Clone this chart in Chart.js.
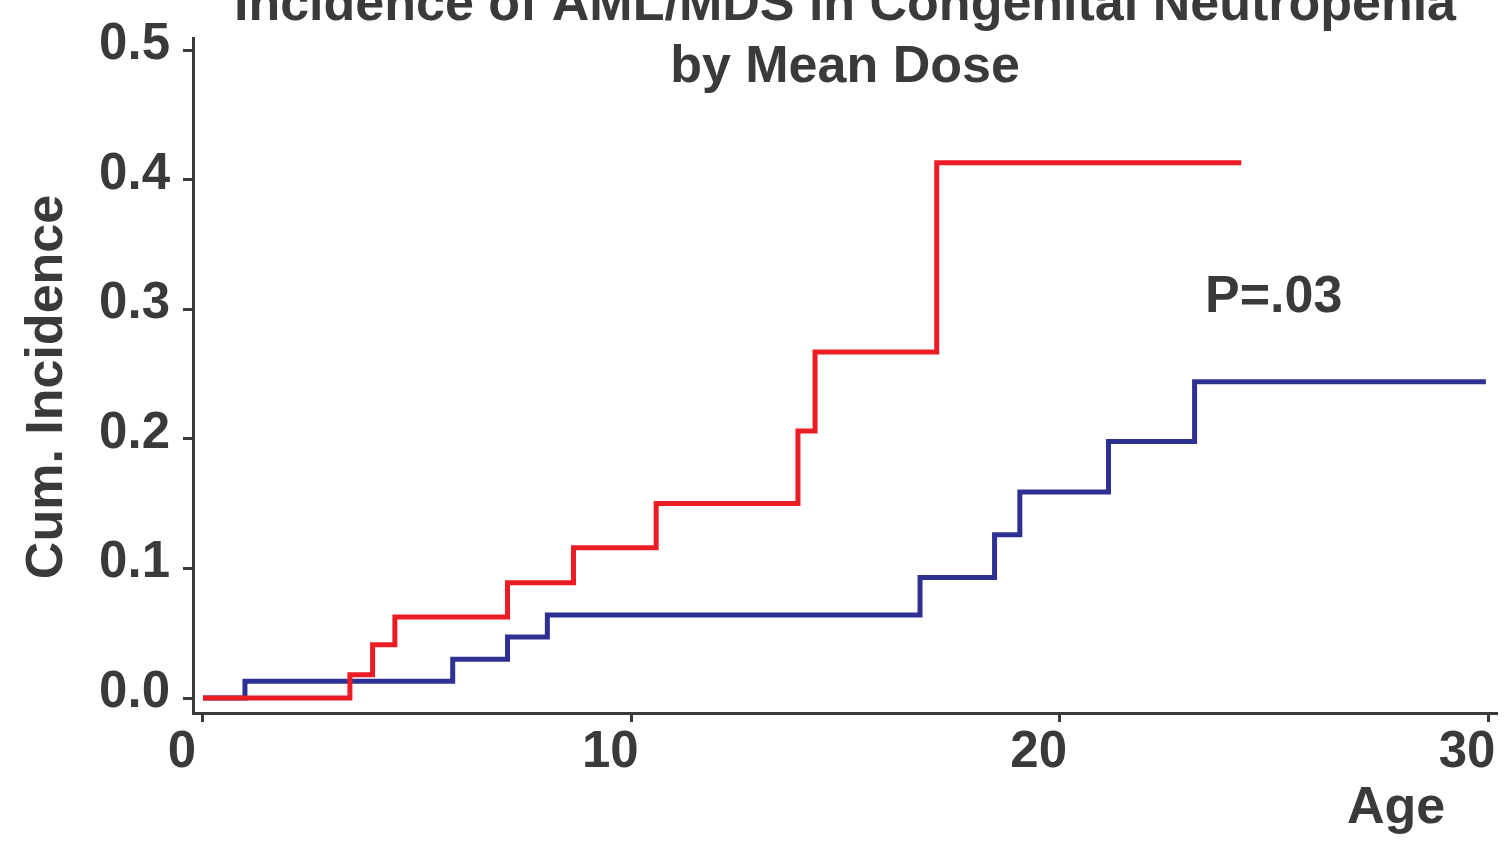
<!DOCTYPE html>
<html>
<head>
<meta charset="utf-8">
<script src="https://cdn.jsdelivr.net/npm/chart.js@4"></script>
<style>
  html, body { margin: 0; padding: 0; background: #fff; }
  #wrap { width: 1506px; height: 842px; }
</style>
</head>
<body>
<div id="wrap"><canvas id="aml"></canvas></div>
<script>
// step curves (age, cumulative incidence)
const highDoseAge = [0, 3.43, 3.96, 4.48, 7.11, 8.65, 10.58, 13.89, 14.29, 17.13, 24.24];
const highDoseInc = [0, 0.018, 0.041, 0.0625, 0.089, 0.116, 0.150, 0.206, 0.267, 0.413, 0.413];

const lowDoseAge = [0, 0.98, 5.83, 7.11, 8.04, 16.74, 18.48, 19.07, 21.14, 23.15, 29.95];
const lowDoseInc = [0, 0.013, 0.030, 0.047, 0.064, 0.093, 0.126, 0.159, 0.198, 0.244, 0.244];

const xTicks = [0, 10, 20, 30];
const yTicks = [0, 0.1, 0.2, 0.3, 0.4, 0.5];

const titleLines = ["Incidence of AML/MDS in Congenital Neutropenia", "by Mean Dose"];
const yTitle = "Cum. Incidence";
const xTitle = "Age";
const pValue = "P=.03";

const INK = "#3a3a3c";
const FONT = "'Liberation Sans', Arial, Helvetica, sans-serif";

function toPoints(xs, ys) {
  return xs.map((x, i) => ({ x: x, y: ys[i] }));
}

// texts drawn on top of the plot (title overlaps the plot box in the original)
const labelsPlugin = {
  id: "labels",
  afterDraw(chart) {
    const ctx = chart.ctx;
    const area = chart.chartArea;
    const cx = (area.left + area.right) / 2;
    ctx.save();
    ctx.fillStyle = INK;
    ctx.font = "bold 52px " + FONT;
    ctx.textAlign = "center";
    ctx.textBaseline = "alphabetic";
    ctx.fillText(titleLines[0], cx, 20);
    ctx.fillText(titleLines[1], cx, 82);

    ctx.fillText(xTitle, 1396, 823);

    ctx.textAlign = "left";
    ctx.fillText(pValue, 1205, 312);

    ctx.translate(62, 387);
    ctx.rotate(-Math.PI / 2);
    ctx.textAlign = "center";
    ctx.fillText(yTitle, 0, 0);
    ctx.restore();
  },
};

const ctx = document.getElementById("aml");

new Chart(ctx, {
  type: "line",
  data: {
    datasets: [
      {
        label: "High dose",
        data: toPoints(highDoseAge, highDoseInc),
        borderColor: "#ec1c24",
        borderWidth: 5,
        stepped: "before",
        pointRadius: 0,
        fill: false,
        borderJoinStyle: "miter",
      },
      {
        label: "Low dose",
        data: toPoints(lowDoseAge, lowDoseInc),
        borderColor: "#2e3192",
        borderWidth: 5,
        stepped: "before",
        pointRadius: 0,
        fill: false,
        borderJoinStyle: "miter",
      },
    ],
  },
  options: {
    responsive: true,
    maintainAspectRatio: false,
    animation: false,
    layout: {
      padding: { top: 38, right: 9, left: 0, bottom: 0 },
    },
    plugins: {
      legend: { display: false },
      title: { display: false },
      tooltip: { enabled: false },
    },
    scales: {
      x: {
        type: "linear",
        min: -0.233,
        max: 30.21,
        afterBuildTicks: (scale) => {
          scale.ticks = xTicks.map((v) => ({ value: v }));
        },
        afterFit: (scale) => {
          scale.height = 129;
          scale.paddingLeft = 0;
          scale.paddingRight = 0;
        },
        border: { display: true, color: INK, width: 3 },
        grid: {
          drawOnChartArea: false,
          drawTicks: true,
          tickLength: 9,
          tickColor: INK,
          tickWidth: 3,
        },
        ticks: {
          color: INK,
          font: { family: FONT, size: 51, weight: "bold" },
          padding: 0,
          labelOffset: -21,
          maxRotation: 0,
          autoSkip: false,
        },
      },
      y: {
        min: -0.01157,
        max: 0.5093,
        afterBuildTicks: (scale) => {
          scale.ticks = yTicks.map((v) => ({ value: v }));
        },
        afterFit: (scale) => {
          scale.width = 193;
          scale.paddingTop = 0;
          scale.paddingBottom = 0;
        },
        border: { display: true, color: INK, width: 3 },
        grid: {
          drawOnChartArea: false,
          drawTicks: true,
          tickLength: 10,
          tickColor: INK,
          tickWidth: 3,
        },
        ticks: {
          color: INK,
          font: { family: FONT, size: 51, weight: "bold" },
          padding: 13,
          labelOffset: -5,
          autoSkip: false,
          callback: (value) => value.toFixed(1),
        },
      },
    },
  },
  plugins: [labelsPlugin],
});
</script>
</body>
</html>
